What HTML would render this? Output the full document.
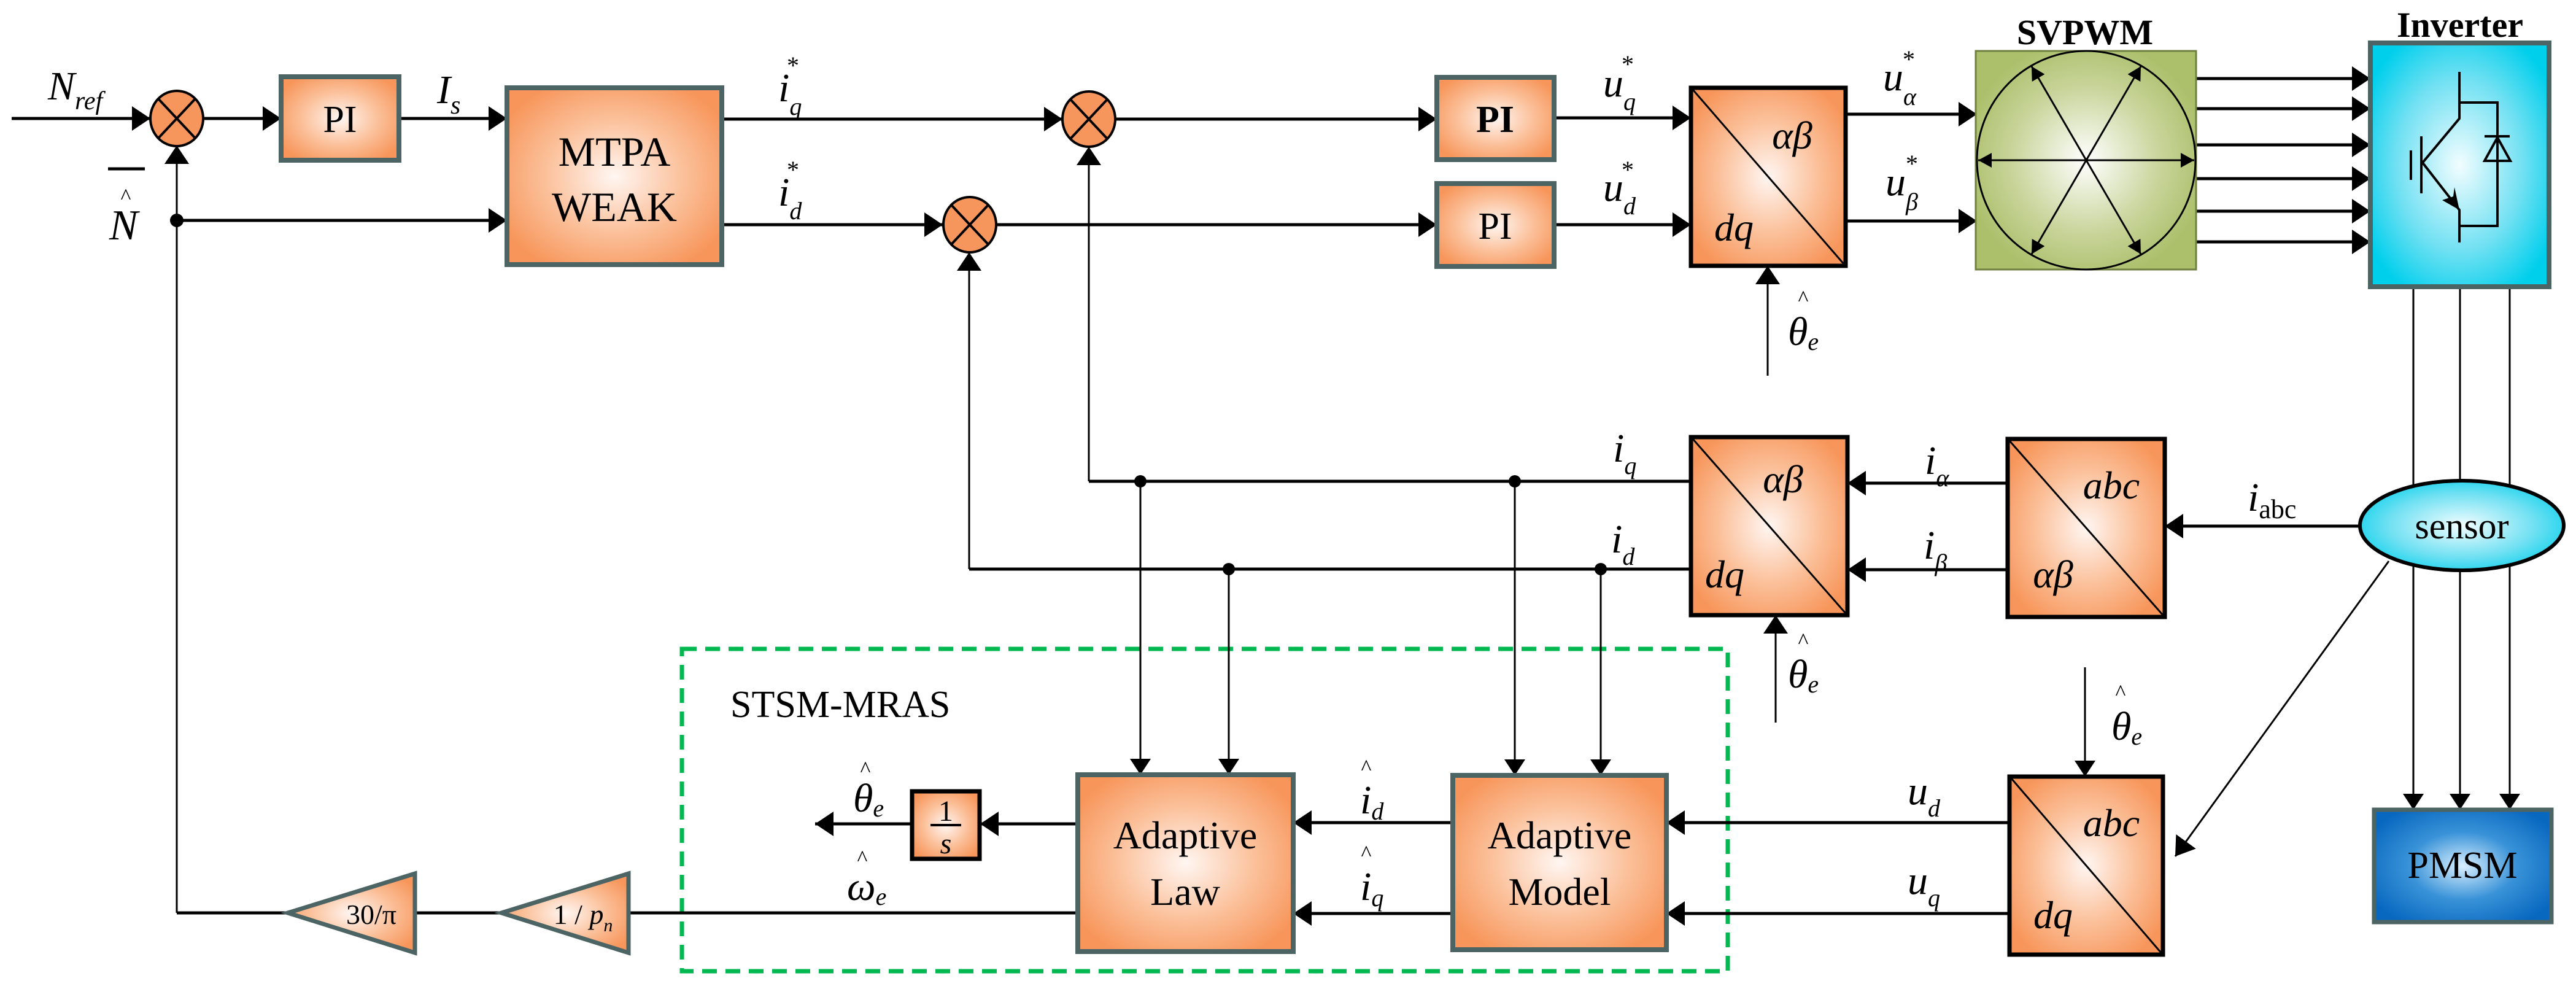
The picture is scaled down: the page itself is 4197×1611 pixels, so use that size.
<!DOCTYPE html>
<html><head><meta charset="utf-8"><style>
html,body{margin:0;padding:0;background:#fff}
svg{display:block;font-family:"Liberation Serif","DejaVu Serif",serif}
svg text{font-family:"Liberation Serif","DejaVu Serif",serif}
.it{font-style:italic}
</style></head><body>
<svg width="4197" height="1611" viewBox="0 0 4197 1611" xmlns="http://www.w3.org/2000/svg" font-family="Liberation Serif, DejaVu Serif, serif">
<defs>
<radialGradient id="og" cx="50%" cy="50%" r="60%"><stop offset="0" stop-color="#fff6f2"/><stop offset="0.55" stop-color="#fbbf98"/><stop offset="1" stop-color="#f7955a"/></radialGradient>
<radialGradient id="gg" cx="50%" cy="50%" r="55%"><stop offset="0" stop-color="#ffffff"/><stop offset="0.6" stop-color="#c9d59c"/><stop offset="1" stop-color="#acc06c"/></radialGradient>
<radialGradient id="cg" cx="50%" cy="50%" r="60%"><stop offset="0" stop-color="#f2fdff"/><stop offset="0.6" stop-color="#6fe0f2"/><stop offset="1" stop-color="#00cfec"/></radialGradient>
<radialGradient id="bg" cx="50%" cy="50%" r="60%"><stop offset="0" stop-color="#d8efff"/><stop offset="0.5" stop-color="#3a93d8"/><stop offset="1" stop-color="#0868c0"/></radialGradient>
<marker id="A" viewBox="0 0 30 40" refX="30" refY="20" markerWidth="30" markerHeight="40" markerUnits="userSpaceOnUse" orient="auto"><path d="M0,0 L30,20 L0,40z" fill="#000"/></marker>
<marker id="B" viewBox="0 0 26 34" refX="26" refY="17" markerWidth="26" markerHeight="34" markerUnits="userSpaceOnUse" orient="auto"><path d="M0,0 L26,17 L0,34z" fill="#000"/></marker>
<marker id="C" viewBox="0 0 22 24" refX="22" refY="12" markerWidth="22" markerHeight="24" markerUnits="userSpaceOnUse" orient="auto-start-reverse"><path d="M0,0 L22,12 L0,24z" fill="#000"/></marker>
</defs>

<rect x="1111" y="1057" width="1704" height="525" fill="none" stroke="#00b84f" stroke-width="7" stroke-dasharray="24 14"/>

<g stroke="#000" fill="none">
<g stroke-width="5">
<line x1="19" y1="193" x2="245" y2="193" marker-end="url(#A)"/>
<line x1="333" y1="193" x2="458" y2="193" marker-end="url(#A)"/>
<line x1="650" y1="193" x2="826" y2="193" marker-end="url(#A)"/>
<line x1="288" y1="359" x2="826" y2="359" marker-end="url(#A)"/>
<line x1="1176" y1="194" x2="1731" y2="194" marker-end="url(#A)"/>
<line x1="1176" y1="366" x2="1536" y2="366" marker-end="url(#A)"/>
<line x1="1817" y1="194" x2="2341" y2="194" marker-end="url(#A)"/>
<line x1="1623" y1="366" x2="2341" y2="366" marker-end="url(#A)"/>
<line x1="2532" y1="192" x2="2755" y2="192" marker-end="url(#A)"/>
<line x1="2532" y1="366" x2="2755" y2="366" marker-end="url(#A)"/>
<line x1="3007" y1="186" x2="3221" y2="186" marker-end="url(#A)"/>
<line x1="3007" y1="360" x2="3221" y2="360" marker-end="url(#A)"/>
<line x1="3578" y1="128" x2="3862" y2="128" marker-end="url(#A)"/>
<line x1="3578" y1="177" x2="3862" y2="177" marker-end="url(#A)"/>
<line x1="3578" y1="236" x2="3862" y2="236" marker-end="url(#A)"/>
<line x1="3578" y1="291" x2="3862" y2="291" marker-end="url(#A)"/>
<line x1="3578" y1="344" x2="3862" y2="344" marker-end="url(#A)"/>
<line x1="3578" y1="394" x2="3862" y2="394" marker-end="url(#A)"/>
<line x1="3271" y1="787" x2="3010" y2="787" marker-end="url(#A)"/>
<line x1="3271" y1="928" x2="3010" y2="928" marker-end="url(#A)"/>
<line x1="3845" y1="857" x2="3527" y2="857" marker-end="url(#A)"/>
<line x1="3274" y1="1340" x2="2715" y2="1340" marker-end="url(#A)"/>
<line x1="3274" y1="1488" x2="2715" y2="1488" marker-end="url(#A)"/>
<line x1="2367" y1="1340" x2="2107" y2="1340" marker-end="url(#A)"/>
<line x1="2367" y1="1488" x2="2107" y2="1488" marker-end="url(#A)"/>
<line x1="1756" y1="1342" x2="1597" y2="1342" marker-end="url(#A)"/>
<line x1="1484" y1="1342" x2="1328" y2="1342" marker-end="url(#A)"/>
<line x1="1756" y1="1487" x2="1024" y2="1487"/>
<line x1="817" y1="1487" x2="676" y2="1487"/>
<line x1="469" y1="1487" x2="288" y2="1487"/>
<line x1="2755" y1="784" x2="1774" y2="784"/>
<line x1="2755" y1="927" x2="1579" y2="927"/>
</g>
<g stroke-width="3">
<line x1="288" y1="1487" x2="288" y2="237" marker-end="url(#A)"/>
<line x1="1774" y1="784" x2="1774" y2="239" marker-end="url(#A)"/>
<line x1="1579" y1="927" x2="1579" y2="411" marker-end="url(#A)"/>
<line x1="1858" y1="784" x2="1858" y2="1262" marker-end="url(#B)"/>
<line x1="2002" y1="927" x2="2002" y2="1262" marker-end="url(#B)"/>
<line x1="2468" y1="784" x2="2468" y2="1263" marker-end="url(#B)"/>
<line x1="2608" y1="927" x2="2608" y2="1263" marker-end="url(#B)"/>
<line x1="2880" y1="612" x2="2880" y2="433" marker-end="url(#A)"/>
<line x1="2893" y1="1177" x2="2893" y2="1002" marker-end="url(#A)"/>
<line x1="3397" y1="1087" x2="3397" y2="1265" marker-end="url(#B)"/>
<line x1="3932" y1="467" x2="3932" y2="1319" marker-end="url(#B)"/>
<line x1="4008" y1="467" x2="4008" y2="1319" marker-end="url(#B)"/>
<line x1="4089" y1="467" x2="4089" y2="1319" marker-end="url(#B)"/>
<line x1="3892" y1="914" x2="3544" y2="1395" marker-end="url(#A)"/>
</g>
</g>
<g fill="#000">
<circle cx="288" cy="359" r="11"/><circle cx="1858" cy="784" r="10"/><circle cx="2468" cy="784" r="10"/><circle cx="2002" cy="927" r="10"/><circle cx="2608" cy="927" r="10"/>
</g>

<g stroke="#000" stroke-width="4">
<ellipse cx="288" cy="193" rx="43" ry="45" fill="#f7965c"/>
<line x1="258" y1="161" x2="318" y2="225"/><line x1="318" y1="161" x2="258" y2="225"/>
<ellipse cx="1774" cy="194" rx="43" ry="45" fill="#f7965c"/>
<line x1="1744" y1="162" x2="1804" y2="226"/><line x1="1804" y1="162" x2="1744" y2="226"/>
<ellipse cx="1580" cy="366" rx="43" ry="45" fill="#f7965c"/>
<line x1="1550" y1="334" x2="1610" y2="398"/><line x1="1610" y1="334" x2="1550" y2="398"/>
</g>

<g stroke="#4d6464" stroke-width="8" fill="url(#og)">
<rect x="458" y="125" width="192" height="136"/>
<rect x="826" y="143" width="350" height="288"/>
<rect x="2341" y="126" width="191" height="134"/>
<rect x="2341" y="299" width="191" height="135"/>
<rect x="1756" y="1262" width="351" height="288"/>
<rect x="2367" y="1263" width="348" height="284"/>
<polygon points="469,1487 676,1423 676,1552" stroke-width="7"/>
<polygon points="817,1487 1024,1423 1024,1552" stroke-width="7"/>
</g>
<g stroke="#000" stroke-width="7" fill="url(#og)">
<rect x="2755" y="143" width="252" height="290"/>
<rect x="2755" y="712" width="255" height="290"/>
<rect x="3271" y="715" width="256" height="290"/>
<rect x="3274" y="1265" width="250" height="290"/>
<rect x="1486" y="1289" width="110" height="110"/>
</g>
<g stroke="#000" stroke-width="3">
<line x1="2758" y1="146" x2="3004" y2="430"/>
<line x1="2758" y1="715" x2="3007" y2="999"/>
<line x1="3274" y1="718" x2="3524" y2="1002"/>
<line x1="3277" y1="1268" x2="3521" y2="1552"/>
</g>

<rect x="3219" y="83" width="359" height="356" fill="url(#gg)" stroke="#6f8040" stroke-width="3"/>
<circle cx="3399" cy="261" r="178" fill="none" stroke="#000" stroke-width="3"/>
<g stroke="#000" stroke-width="3">
<line x1="3223" y1="261" x2="3575" y2="261" marker-start="url(#C)" marker-end="url(#C)"/>
<line x1="3310" y1="108" x2="3488" y2="414" marker-start="url(#C)" marker-end="url(#C)"/>
<line x1="3488" y1="108" x2="3310" y2="414" marker-start="url(#C)" marker-end="url(#C)"/>
</g>

<rect x="3862" y="70" width="291" height="397" fill="url(#cg)" stroke="#4d6464" stroke-width="8"/>
<g stroke="#000" stroke-width="4" fill="none">
<polyline points="4007,117 4007,193 3947,265 4007,342 4007,395"/>
<line x1="3945" y1="222" x2="3945" y2="315"/>
<line x1="3928" y1="245" x2="3928" y2="293"/>
<polyline points="4007,167 4069,167 4069,368 4007,368"/>
<line x1="4048" y1="222" x2="4089" y2="222"/>
<polygon points="4069,224 4048,262 4090,262"/>
</g>
<polygon points="4007,342 3979,326 3997,320 3999,305" fill="#000"/>

<ellipse cx="4011" cy="856" rx="166" ry="73" fill="url(#cg)" stroke="#000" stroke-width="6"/>
<rect x="3868" y="1319" width="289" height="183" fill="url(#bg)" stroke="#4d6464" stroke-width="7"/>

<g font-size="62" text-anchor="middle">
<text x="554" y="215">PI</text>
<text x="2436" y="215" font-weight="bold">PI</text>
<text x="2436" y="389">PI</text>
<text x="1001" y="270" font-size="68">MTPA</text>
<text x="1001" y="360" font-size="68">WEAK</text>
<text x="1931" y="1382" font-size="64">Adaptive</text>
<text x="1931" y="1474" font-size="64">Law</text>
<text x="2541" y="1382" font-size="64">Adaptive</text>
<text x="2541" y="1474" font-size="64">Model</text>
<text x="3397" y="72" font-weight="bold" font-size="58">SVPWM</text>
<text x="4008" y="60" font-weight="bold" font-size="58">Inverter</text>
<text x="4011" y="877" font-size="60">sensor</text>
<text x="4012" y="1430" font-size="62">PMSM</text>
<text x="1541" y="1337" font-size="48">1</text>
<text x="1541" y="1390" font-size="48" class="it">s</text>
<text x="605" y="1505" font-size="46">30/π</text>
<text x="950" y="1505" font-size="46">1 / <tspan class="it">p</tspan><tspan font-size="30" dy="12" class="it">n</tspan></text>
</g>
<line x1="1516" y1="1344" x2="1566" y2="1344" stroke="#000" stroke-width="4"/>
<text x="1190" y="1168" font-size="62">STSM-MRAS</text>

<g class="it" font-size="64" font-style="italic">
<text x="2920" y="242" text-anchor="middle">αβ</text>
<text x="2825" y="392" text-anchor="middle">dq</text>
<text x="2905" y="802" text-anchor="middle">αβ</text>
<text x="2810" y="957" text-anchor="middle">dq</text>
<text x="3440" y="812" text-anchor="middle">abc</text>
<text x="3345" y="957" text-anchor="middle">αβ</text>
<text x="3440" y="1362" text-anchor="middle">abc</text>
<text x="3345" y="1512" text-anchor="middle">dq</text>
</g>

<g class="it" font-size="66" font-style="italic">
<text x="78" y="162">N<tspan font-size="42" dy="16">ref</tspan></text>
<text x="712" y="168">I<tspan font-size="42" dy="17">s</tspan></text>
<text x="1268" y="165">i<tspan font-size="40" dy="22">q</tspan></text>
<text x="1282" y="120" font-size="40" font-style="normal">*</text>
<text x="1268" y="335">i<tspan font-size="40" dy="22">d</tspan></text>
<text x="1282" y="290" font-size="40" font-style="normal">*</text>
<text x="2612" y="157">u<tspan font-size="40" dy="22">q</tspan></text>
<text x="2642" y="118" font-size="40" font-style="normal">*</text>
<text x="2612" y="327">u<tspan font-size="40" dy="22">d</tspan></text>
<text x="2642" y="290" font-size="40" font-style="normal">*</text>
<text x="3068" y="147">u<tspan font-size="40" dy="24">α</tspan></text>
<text x="3100" y="110" font-size="40" font-style="normal">*</text>
<text x="3072" y="318">u<tspan font-size="40" dy="24">β</tspan></text>
<text x="3105" y="280" font-size="40" font-style="normal">*</text>
<text x="2628" y="752">i<tspan font-size="40" dy="20">q</tspan></text>
<text x="2625" y="900">i<tspan font-size="40" dy="20">d</tspan></text>
<text x="3136" y="772">i<tspan font-size="40" dy="20">α</tspan></text>
<text x="3134" y="910">i<tspan font-size="40" dy="20">β</tspan></text>
<text x="3662" y="832">i<tspan font-size="44" dy="12" font-style="normal">abc</tspan></text>
<text x="3108" y="1310">u<tspan font-size="40" dy="20">d</tspan></text>
<text x="3108" y="1456">u<tspan font-size="40" dy="20">q</tspan></text>
<text x="2216" y="1325">i<tspan font-size="40" dy="10">d</tspan></text>
<text x="2216" y="1466">i<tspan font-size="40" dy="10">q</tspan></text>
<text x="2913" y="562">θ<tspan font-size="40" dy="8">e</tspan></text>
<text x="2913" y="1120">θ<tspan font-size="40" dy="8">e</tspan></text>
<text x="3440" y="1205">θ<tspan font-size="40" dy="8">e</tspan></text>
<text x="1390" y="1322">θ<tspan font-size="40" dy="8">e</tspan></text>
<text x="1380" y="1466">ω<tspan font-size="40" dy="8">e</tspan></text>
<text x="178" y="390" font-size="70">N</text>
</g>
<g font-size="36" text-anchor="middle">
<text x="205" y="332">^</text>
<text x="2938" y="498">^</text>
<text x="2938" y="1056">^</text>
<text x="3455" y="1140">^</text>
<text x="2226" y="1262">^</text>
<text x="2226" y="1402">^</text>
<text x="1410" y="1265">^</text>
<text x="1405" y="1410">^</text>
</g>
<line x1="176" y1="275" x2="236" y2="275" stroke="#000" stroke-width="5"/>
</svg>
</body></html>
